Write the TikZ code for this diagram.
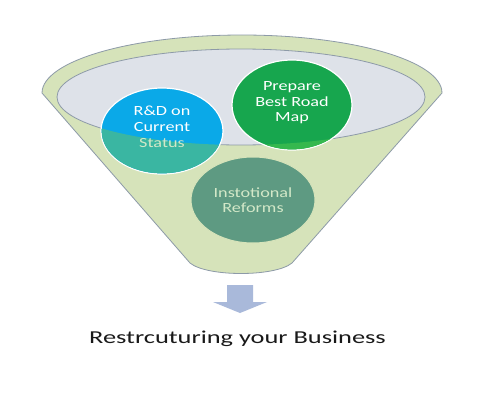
\documentclass[tikz,border=0pt]{standalone}
\usepackage{fontspec}
\setmainfont{Carlito}
\definecolor{funnelgreen}{HTML}{D6E3BA}
\definecolor{rimgray}{HTML}{8D9AA8}
\definecolor{innergray}{HTML}{DEE2E9}
\definecolor{cblue}{HTML}{0AA9E8}
\definecolor{cteal}{HTML}{3AB6A2}
\definecolor{cgreen}{HTML}{17A64E}
\definecolor{cgreenlow}{HTML}{35B84E}
\definecolor{cdark}{HTML}{5E9A82}
\definecolor{darktext}{HTML}{D3E8C8}
\definecolor{arrowblue}{HTML}{A9B9DA}
\tikzset{
  bubble/.style={draw=white, line width=1.2pt},
  bubtext/.style={align=center, font=\fontsize{14}{15.5}\selectfont, xscale=1.3, inner sep=0pt},
}
\begin{document}
\begin{tikzpicture}[x=1pt,y=1pt]
\useasboundingbox[fill=white] (0,0) rectangle (500,400);
% funnel body
\path[fill=funnelgreen, draw=rimgray, line width=0.8pt]
  (42,307) arc[start angle=180, end angle=0, x radius=200, y radius=58]
  -- (292,137) .. controls (275,123) and (207,123) .. (190,137) -- cycle;
% inner rim
\path[fill=innergray, draw=rimgray, line width=0.8pt]
  (241,303) ellipse[x radius=184, y radius=48];
% circles
\path[fill=cblue, bubble] (162,269) ellipse[x radius=61, y radius=43];
\path[fill=cgreen, bubble] (292,295) ellipse[x radius=60, y radius=45];
\begin{scope}[even odd rule]
  \clip (0,0) rectangle (500,400) (241,303) ellipse[x radius=184, y radius=48];
  \path[fill=cteal] (162,269) ellipse[x radius=60.4, y radius=42.4];
  \path[fill=cgreenlow] (292,295) ellipse[x radius=59.4, y radius=44.4];
\end{scope}
\path[fill=cdark, draw=funnelgreen, line width=1pt] (253,200) ellipse[x radius=62, y radius=43];
% labels
\node[bubtext, text=white] (rd) at (162,281) {R\&D on\\Current};
\node[bubtext, text=darktext] (st) at (162,257) {Status};
\node[bubtext, text=white] (pr) at (292,297) {Prepare\\Best Road\\Map};
\node[bubtext, text=darktext] (ir) at (253,200) {Instotional\\Reforms};
% arrow
\path[fill=arrowblue] (227,115) -- (253,115) -- (253,98) -- (267,98) -- (240,87) -- (213,98) -- (227,98) -- cycle;
% title
\node[font=\fontsize{18.2}{20}\selectfont, xscale=1.45, text=black!90, anchor=base] (title) at (237.5,57) {Restrcuturing your Business};
\end{tikzpicture}
\end{document}
